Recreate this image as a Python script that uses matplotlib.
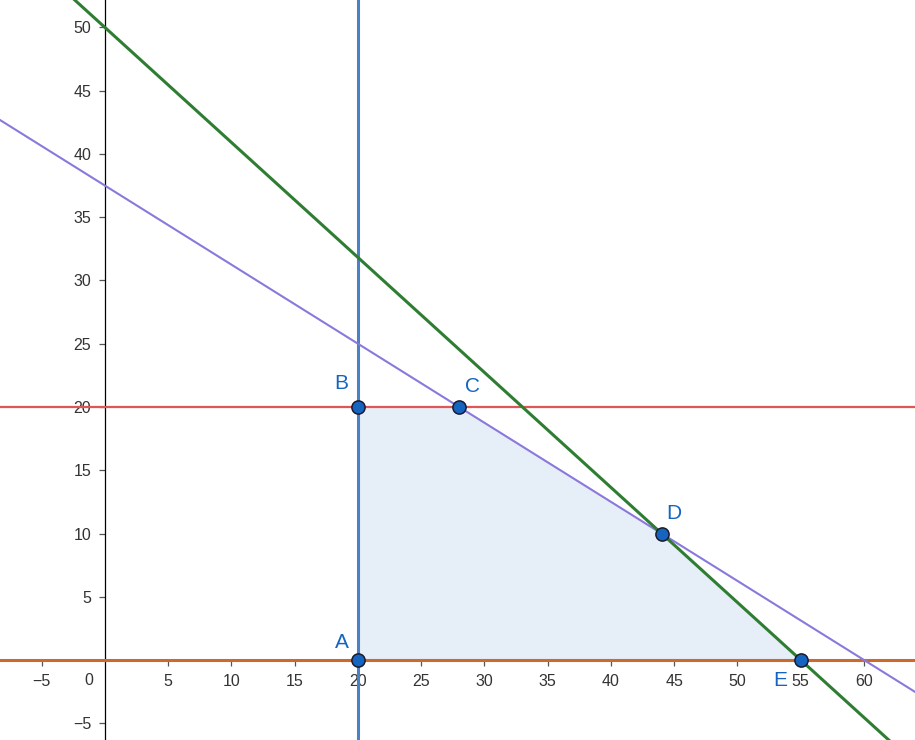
import matplotlib
matplotlib.use("Agg")
import matplotlib.pyplot as plt
import numpy as np

plt.rcParams['font.family'] = ['Liberation Sans', 'DejaVu Sans']

# Data
point_names = ["A", "B", "C", "D", "E"]
point_x = [20, 20, 28, 44, 55]
point_y = [0, 20, 20, 10, 0]
label_offsets = [(-16, 18), (-17, 23), (13, 20), (12, 20), (-20, -21)]
x_ticks = [-5, 5, 10, 15, 20, 25, 30, 35, 40, 45, 50, 55, 60]
y_ticks = [-5, 5, 10, 15, 20, 25, 30, 35, 40, 45, 50]

# lines: 10x + 11y = 550 (green), 5x + 8y = 300 (purple)
green_a, green_b, green_c = 10, 11, 550
purple_a, purple_b, purple_c = 5, 8, 300
x_const = 20
y_const = 20

xmin, xmax = -105 / 12.65, (915 - 105) / 12.65
ymin, ymax = -80 / 12.65, 660 / 12.65

fig = plt.figure(figsize=(9.15, 7.4), dpi=100)
ax = fig.add_axes([0, 0, 1, 1])
ax.set_xlim(xmin, xmax)
ax.set_ylim(ymin, ymax)

for s in ["top", "right"]:
    ax.spines[s].set_visible(False)
ax.spines["left"].set_position(("data", 0))
ax.spines["bottom"].set_position(("data", 0))
ax.spines["left"].set_color("black")
ax.spines["bottom"].set_color("black")
ax.spines["left"].set_linewidth(0.9)
ax.spines["bottom"].set_linewidth(0.9)

ax.set_xticks(x_ticks)
ax.set_yticks(y_ticks)
ax.set_xticklabels(["\u2212" + str(-t) if t < 0 else str(t) for t in x_ticks])
ax.set_yticklabels(["\u2212" + str(-t) if t < 0 else str(t) for t in y_ticks])
ax.tick_params(axis="x", direction="out", length=4, width=0.9, colors="#555555",
               labelcolor="#333333", labelsize=11.5, pad=6)
ax.tick_params(axis="y", direction="out", length=4, width=0.9, colors="#555555",
               labelcolor="#333333", labelsize=11.5, pad=6)
ax.text(-0.9, -1.0, "0", ha="right", va="top", fontsize=11.5, color="#333333")

# feasible region
ax.fill(point_x, point_y, color="#e6eef8", zorder=1, lw=0)

xs = np.array([xmin - 5, xmax + 5])
ax.axhline(0, color="#cc6a2e", lw=2.2, zorder=3)
ax.axhline(y_const, color="#e05555", lw=1.6, zorder=3)
ax.axvline(x_const, color="#4a80c4", lw=2.2, zorder=3)
ax.plot(xs, (purple_c - purple_a * xs) / purple_b, color="#8a78dc", lw=1.5, zorder=3)
ax.plot(xs, (green_c - green_a * xs) / green_b, color="#2e7d32", lw=2.2, zorder=4)

ax.plot(point_x, point_y, "o", ms=9.5, mfc="#1565c0", mec="#1a1a2e", mew=1.1, zorder=6)
for n, x, y, off in zip(point_names, point_x, point_y, label_offsets):
    ax.annotate(n, (x, y), xytext=off, textcoords="offset pixels", ha="center",
                va="center", fontsize=15, color="#1565c0", zorder=7)

fig.savefig("out.png", dpi=100)
